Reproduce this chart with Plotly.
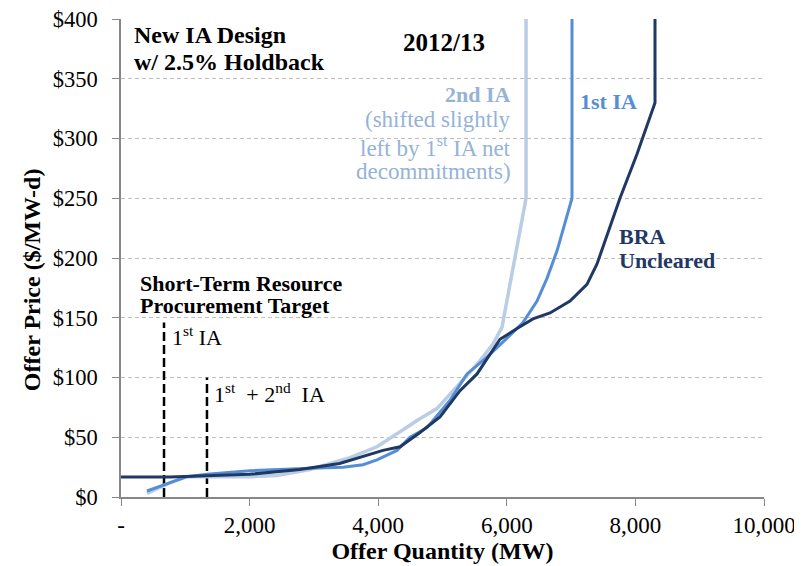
import plotly.graph_objects as go

# curves (MW, $/MW-day)
bra_mw = [0, 760, 2000, 2780, 3400, 4075, 4340, 4650, 4961, 5272, 5537, 5894, 6159, 6407, 6672, 6983, 7247, 7403, 7760, 8025, 8305, 8305]
bra_price = [16.7, 16.7, 19, 23, 28, 39, 42, 54, 67, 89, 103, 132, 141, 149, 154, 164, 178, 195, 250, 287, 330, 400]

ia1_mw = [404, 1026, 1337, 2006, 2939, 3453, 3764, 3981, 4292, 4495, 4759, 5117, 5381, 5692, 6003, 6252, 6470, 6625, 6781, 7014, 7014]
ia1_price = [5, 17, 19, 22, 24, 25, 27, 31, 39, 50, 58, 81, 103, 117, 133, 146, 164, 183, 206, 250, 400]

ia2_mw = [404, 762, 1026, 1337, 2006, 2426, 2939, 3561, 3981, 4495, 4603, 4914, 5225, 5537, 5785, 5925, 6299, 6299]
ia2_price = [3, 12, 17, 17, 17, 18, 23, 33, 42, 60, 64, 74, 92, 111, 128, 142, 250, 400]

# short-term resource procurement targets
target_mw = [669, 1337]
target_top = [146, 100]

x_ticks = [0, 2000, 4000, 6000, 8000, 10000]
x_labels = ["-", "2,000", "4,000", "6,000", "8,000", "10,000"]

NAVY = "#1F3864"
MID = "#558ED5"
LIGHT = "#B9CDE5"
LIGHT_TXT = "#95B3D7"
FONT = "Liberation Serif"

fig = go.Figure()

for mw, top in zip(target_mw, target_top):
    fig.add_trace(go.Scatter(x=[mw, mw], y=[0, top], mode="lines",
                             line=dict(color="black", width=2.5, dash="9px,4px")))

fig.add_trace(go.Scatter(x=ia2_mw, y=ia2_price, mode="lines", line=dict(color=LIGHT, width=3.5)))
fig.add_trace(go.Scatter(x=ia1_mw, y=ia1_price, mode="lines", line=dict(color=MID, width=3)))
fig.add_trace(go.Scatter(x=bra_mw, y=bra_price, mode="lines", line=dict(color=NAVY, width=3)))


def note(text, x, y, color="black", anchor="left", size=22):
    fig.add_annotation(x=x, y=y, text=text, showarrow=False, xanchor=anchor, yanchor="middle",
                       align=anchor, borderpad=0, font=dict(family=FONT, size=size, color=color))


# one annotation per line so the line spacing matches the original
note("<b>New IA Design</b>", 187, 386.7, size=24)
note("<b>w/ 2.5% Holdback</b>", 187, 364, size=24)
note("<b>2012/13</b>", 5023, 380, anchor="center", size=25)
note("<b>2nd IA</b>", 6081, 336.7, color=LIGHT_TXT, anchor="right")
note("(shifted slightly", 6081, 315.8, color=LIGHT_TXT, anchor="right", size=23)
note("left by 1<sup>st</sup> IA net", 6081, 293.3, color=LIGHT_TXT, anchor="right", size=23)
note("decommitments)", 6081, 272.5, color=LIGHT_TXT, anchor="right", size=23)
note("<b>1st IA</b>", 7123, 330.8, color=MID)
note("<b>BRA</b>", 7729, 218.3, color=NAVY)
note("<b>Uncleared</b>", 7729, 197.5, color=NAVY)
note("<b>Short-Term Resource</b>", 280, 179)
note("<b>Procurement Target</b>", 280, 160)
note("1<sup>st</sup> IA", 778, 135)
note("1<sup>st</sup>  + 2<sup>nd</sup>  IA", 1431, 86.7)

# y title sits a little below the middle of the axis in the original
fig.add_annotation(x=-0.138, xref="paper", y=181.7, text="<b>Offer Price ($/MW-d)</b>",
                   showarrow=False, textangle=-90, xanchor="center", yanchor="middle",
                   font=dict(family=FONT, size=24, color="black"))

fig.update_layout(
    width=802, height=566,
    margin=dict(l=113, r=46, t=11, b=77),
    paper_bgcolor="white", plot_bgcolor="white",
    showlegend=False,
    font=dict(family=FONT, size=24, color="black"),
    xaxis=dict(range=[0, 10000], tickvals=x_ticks, ticktext=x_labels, automargin=False,
               showgrid=False, zeroline=False, showline=True, linecolor="#888888", linewidth=1.5,
               ticks="outside", ticklen=7, tickcolor="#888888", ticklabeloverflow="allow",
               tickfont=dict(size=23),
               title=dict(text="<b>Offer Quantity (MW)</b>", font=dict(size=24), standoff=2)),
    yaxis=dict(range=[0, 400], dtick=50, tickprefix="$", automargin=False,
               showgrid=True, gridcolor="#BFBFBF", griddash="4px,3px", gridwidth=1,
               zeroline=False, showline=True, linecolor="#888888", linewidth=1.5,
               ticks="outside", ticklen=7, tickcolor="#888888", ticklabelstandoff=10,
               ticklabeloverflow="allow", tickfont=dict(size=22.5)),
)

fig.write_html("out.html")
